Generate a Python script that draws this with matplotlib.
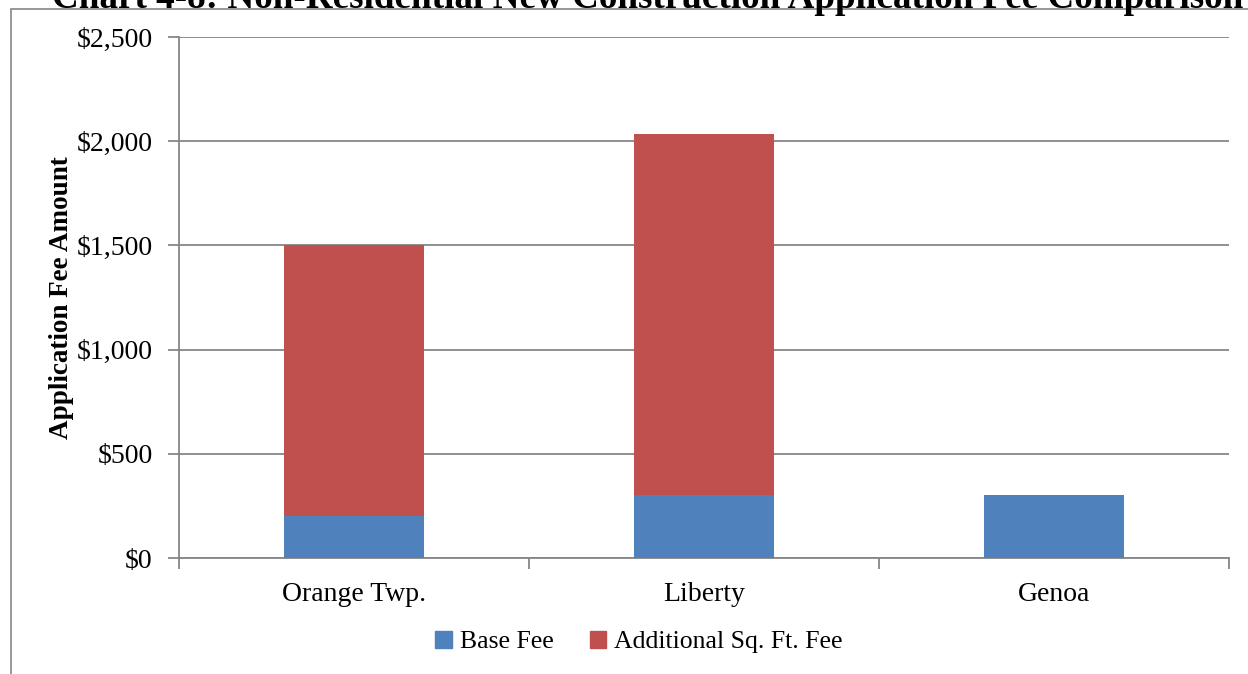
import matplotlib
matplotlib.use("Agg")
import matplotlib.pyplot as plt
from matplotlib.patches import Rectangle
from matplotlib.ticker import FuncFormatter, FixedLocator

categories = ["Orange Twp.", "Liberty", "Genoa"]
base_fee = [200, 300, 300]
additional_fee = [1300, 1735, 0]
series_names = ["Base Fee", "Additional Sq. Ft. Fee"]
title = "Chart 4-8: Non-Residential New Construction Application Fee Comparison"
ylabel = "Application Fee Amount"

BLUE = "#4F81BD"
RED = "#C0504D"
GRID = "#868686"

plt.rcParams["font.family"] = ["Liberation Serif", "DejaVu Serif"]

W, H = 1248, 674
fig = plt.figure(figsize=(W / 100, H / 100), dpi=100)

# outer chart frame
fig.add_artist(Rectangle((11 / W, -0.1), 1.2, 1 - 9 / H + 0.1, transform=fig.transFigure,
                         fill=False, edgecolor=GRID, linewidth=1.2))
fig.text(648 / W, 1 - 8 / H, title, ha="center", va="baseline",
         fontsize=26.7, fontweight="bold")

ax = fig.add_axes([179 / W, 1 - 558 / H, (1229 - 179) / W, (558 - 37) / H])
x = list(range(len(categories)))
ax.bar(x, base_fee, width=0.4, color=BLUE, label=series_names[0], zorder=3)
ax.bar(x, additional_fee, width=0.4, bottom=base_fee, color=RED,
       label=series_names[1], zorder=3)

ax.set_xlim(-0.5, len(categories) - 0.5)
ax.set_ylim(0, 2500)
ax.set_yticks(range(0, 2501, 500))
ax.yaxis.set_major_formatter(FuncFormatter(lambda v, p: f"${v:,.0f}"))
ax.grid(axis="y", color=GRID, linewidth=1.3, zorder=0)
ax.set_axisbelow(True)

ax.set_xticks(x)
ax.set_xticklabels(categories)
ax.xaxis.set_minor_locator(FixedLocator([i - 0.5 for i in range(len(categories) + 1)]))
ax.tick_params(axis="x", which="major", length=0, pad=17, labelsize=20)
ax.tick_params(axis="x", which="minor", length=8, width=1.3, color=GRID)
ax.tick_params(axis="y", length=8, width=1.3, color=GRID, pad=11, labelsize=20)

for s in ["top", "right"]:
    ax.spines[s].set_visible(False)
ax.spines["left"].set_color(GRID)
ax.spines["left"].set_linewidth(1.3)
ax.spines["bottom"].set_color(GRID)
ax.spines["bottom"].set_linewidth(1.3)

ax.set_ylabel(ylabel, fontsize=19.5, fontweight="bold", va="center")
ax.yaxis.set_label_coords((62 - 179) / 1050, 0.5)

handles = [Rectangle((0, 0), 1, 1, color=BLUE), Rectangle((0, 0), 1, 1, color=RED)]
fig.legend(handles, series_names, loc="center", bbox_to_anchor=(639 / W, 1 - 642 / H),
           ncol=2, frameon=False, fontsize=18.5, handlelength=0.65, handleheight=0.65,
           handletextpad=0.3, columnspacing=1.4)

fig.savefig("out.png", dpi=100)
